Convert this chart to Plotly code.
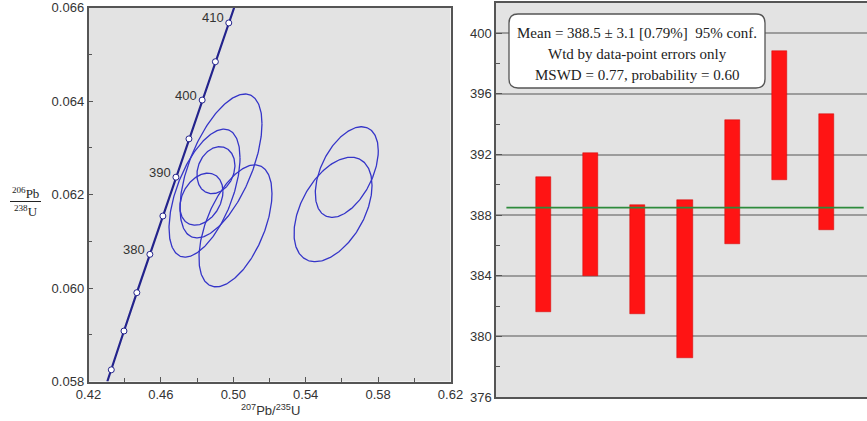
import numpy as np
import plotly.graph_objects as go

W, H = 867, 421

# ---------------- data ----------------
# concordia age marks (Ma) and their ratios
conc_age = [365, 370, 375, 380, 385, 390, 395, 400, 405, 410]
conc_x = [0.4326, 0.4396, 0.4467, 0.4539, 0.4611, 0.4683, 0.4755, 0.4828, 0.4901, 0.4975]
conc_y = [0.05825, 0.05908, 0.05990, 0.06072, 0.06154, 0.06237, 0.06319, 0.06402, 0.06484, 0.06567]
curve_x = [0.4304] + conc_x + [0.5005]
curve_y = [0.0580] + conc_y + [0.0660]
label_ages = [380, 390, 400, 410]

# error ellipses: centre, half-widths, correlation
ell_cx = [0.4932, 0.4841, 0.4904, 0.4824, 0.5012, 0.5627, 0.5551]
ell_cy = [0.06261, 0.06203, 0.06252, 0.06190, 0.06133, 0.06248, 0.06168]
ell_sx = [0.02265, 0.01961, 0.01050, 0.01188, 0.02017, 0.01740, 0.02155]
ell_sy = [0.001540, 0.001369, 0.000503, 0.000556, 0.001305, 0.000969, 0.001117]
ell_rho = [0.585, 0.55, 0.2, 0.3, 0.53, 0.47, 0.46]

# weighted mean age plot
spot = [1, 2, 3, 4, 5, 6, 7]
age_low = [381.6, 384.0, 381.5, 378.6, 386.1, 390.3, 387.0]
age_high = [390.5, 392.1, 388.7, 389.0, 394.3, 398.8, 394.7]
mean_age = 388.5
mean_span = [0.22, 7.78]
box_lines = ["Mean = 388.5 ± 3.1 [0.79%] &nbsp;95% conf.",
             "Wtd by data-point errors only",
             "MSWD = 0.77, probability = 0.60"]

# ---------------- helpers ----------------
def px(x):
    return x / W

def py(y):
    return 1 - y / H

fig = go.Figure()

# concordia curve
fig.add_trace(go.Scatter(x=curve_x, y=curve_y, mode="lines",
                         line=dict(color="#23238c", width=2.2),
                         xaxis="x", yaxis="y", showlegend=False, hoverinfo="skip"))

# ellipses
theta = np.linspace(0, 2 * np.pi, 240)
for cx, cy, sx, sy, r in zip(ell_cx, ell_cy, ell_sx, ell_sy, ell_rho):
    a = np.cos(theta)
    b = r * np.cos(theta) + np.sqrt(1 - r * r) * np.sin(theta)
    fig.add_trace(go.Scatter(x=cx + sx * a, y=cy + sy * b, mode="lines",
                             line=dict(color="#3535c8", width=1.3),
                             xaxis="x", yaxis="y", showlegend=False, hoverinfo="skip"))

# concordia age markers
fig.add_trace(go.Scatter(x=conc_x, y=conc_y, mode="markers",
                         marker=dict(size=6, color="white", line=dict(color="#23238c", width=1)),
                         xaxis="x", yaxis="y", showlegend=False, hoverinfo="skip"))

# age labels
for age, x, y in zip(conc_age, conc_x, conc_y):
    if age in label_ages:
        fig.add_annotation(x=x, y=y, xref="x", yref="y", text=str(age),
                           showarrow=False, xanchor="right", yanchor="middle",
                           xshift=-3, yshift=5,
                           font=dict(family="Arial", size=13, color="#333333"))

# bars
fig.add_trace(go.Bar(x=spot, y=[h - l for h, l in zip(age_high, age_low)], base=age_low,
                     width=0.32, marker=dict(color="#ff1414", line=dict(color="#d00000", width=0.5)),
                     xaxis="x2", yaxis="y2", showlegend=False, hoverinfo="skip"))

# mean line
fig.add_trace(go.Scatter(x=mean_span, y=[mean_age, mean_age], mode="lines",
                         line=dict(color="#2e8b3c", width=1.6),
                         xaxis="x2", yaxis="y2", showlegend=False, hoverinfo="skip"))

axis_font = dict(family="Arial", size=13, color="#333333")

fig.update_layout(
    width=W, height=H, autosize=False,
    margin=dict(l=0, r=0, t=0, b=0, autoexpand=False),
    paper_bgcolor="white", plot_bgcolor="#e3e3e3",
    bargap=0,
    xaxis=dict(domain=[px(88.5), px(450.5)], range=[0.42, 0.62], anchor="y", automargin=False,
               showline=True, mirror=True, linecolor="#555555", linewidth=1.5,
               ticks="inside", ticklen=5, tickcolor="#555555", tickwidth=1,
               tick0=0.42, dtick=0.04, tickformat=".2f", tickfont=axis_font,
               minor=dict(dtick=0.02, ticks="inside", ticklen=4, tickcolor="#555555"),
               showgrid=False, zeroline=False),
    yaxis=dict(domain=[py(381.5), py(7.5)], range=[0.058, 0.066], anchor="x", automargin=False,
               showline=True, mirror=True, linecolor="#555555", linewidth=1.5,
               ticks="inside", ticklen=5, tickcolor="#555555", tickwidth=1,
               tick0=0.058, dtick=0.002, tickformat=".3f", tickfont=axis_font,
               minor=dict(dtick=0.001, ticks="inside", ticklen=4, tickcolor="#555555"),
               showgrid=False, zeroline=False),
    xaxis2=dict(domain=[px(496), 1.0], range=[0, 7.85], anchor="y2", automargin=False,
                showline=True, mirror=True, linecolor="#555555", linewidth=1.5,
                showticklabels=False, ticks="", showgrid=False, zeroline=False),
    yaxis2=dict(domain=[py(397), py(3)], range=[376, 402], anchor="x2", automargin=False,
                showline=True, mirror=False, linecolor="#555555", linewidth=1.5,
                ticks="inside", ticklen=6, tickcolor="#555555",
                tick0=376, dtick=4, tickfont=axis_font,
                minor=dict(dtick=2, ticks="inside", ticklen=4, tickcolor="#555555", showgrid=False),
                showgrid=True, gridcolor="#9c9c9c", gridwidth=1.5, zeroline=False),
)

# x-axis title (left panel)
fig.add_annotation(x=px(270), y=py(410), xref="paper", yref="paper",
                   xanchor="center", yanchor="middle",
                   text="<sup>207</sup>Pb/<sup>235</sup>U", showarrow=False,
                   font=dict(family="Arial", size=13, color="#333333"))

# y-axis title as a fraction
fig.add_annotation(x=px(25.5), y=py(193), xref="paper", yref="paper",
                   xanchor="center", yanchor="middle",
                   text="<sup>206</sup>Pb", showarrow=False,
                   font=dict(family="Liberation Serif", size=13, color="#222222"))
fig.add_annotation(x=px(25.5), y=py(211), xref="paper", yref="paper",
                   xanchor="center", yanchor="middle",
                   text="<sup>238</sup>U", showarrow=False,
                   font=dict(family="Liberation Serif", size=13, color="#222222"))
fig.add_shape(type="line", xref="paper", yref="paper",
              x0=px(10), x1=px(41), y0=py(201.5), y1=py(201.5),
              line=dict(color="#222222", width=1))

# rounded text box
bx0, bx1, by0, by1, rad = 509, 765, 14, 88, 9
path = (f"M {px(bx0 + rad)} {py(by0)} L {px(bx1 - rad)} {py(by0)} "
        f"Q {px(bx1)} {py(by0)} {px(bx1)} {py(by0 + rad)} "
        f"L {px(bx1)} {py(by1 - rad)} Q {px(bx1)} {py(by1)} {px(bx1 - rad)} {py(by1)} "
        f"L {px(bx0 + rad)} {py(by1)} Q {px(bx0)} {py(by1)} {px(bx0)} {py(by1 - rad)} "
        f"L {px(bx0)} {py(by0 + rad)} Q {px(bx0)} {py(by0)} {px(bx0 + rad)} {py(by0)} Z")
fig.add_shape(type="path", path=path, xref="paper", yref="paper",
              fillcolor="white", line=dict(color="#555555", width=1.3), layer="above")

for t, yy in zip(box_lines, [33, 54, 75]):
    fig.add_annotation(x=px(637), y=py(yy), xref="paper", yref="paper",
                       xanchor="center", yanchor="middle",
                       text=t, showarrow=False,
                       font=dict(family="Liberation Serif", size=15, color="#222222"))

fig.write_html("out.html", config={"responsive": False, "displayModeBar": False},
               post_script="document.body.style.margin='0';document.body.style.overflow='hidden';")
